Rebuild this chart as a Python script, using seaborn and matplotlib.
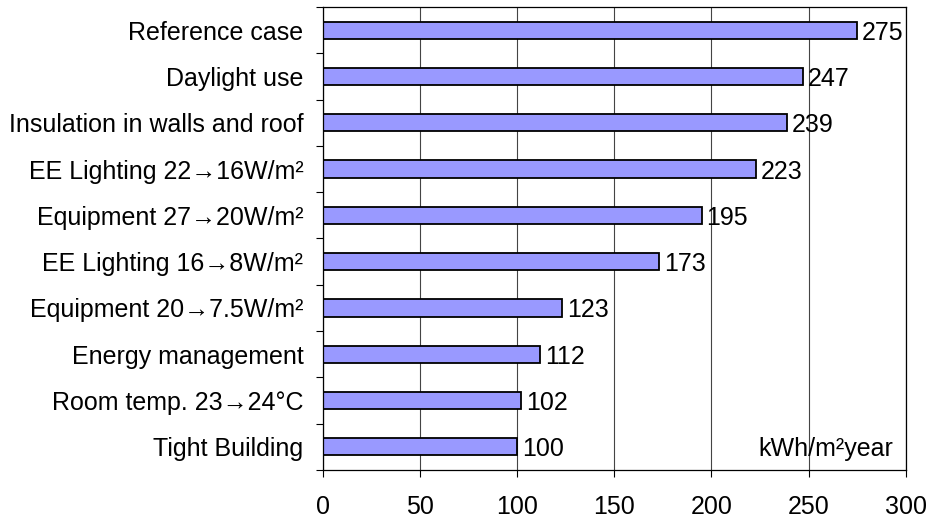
import matplotlib
matplotlib.use("Agg")
import matplotlib.pyplot as plt
from matplotlib.ticker import FixedLocator
import seaborn as sns
import pandas as pd
import numpy as np

categories = [
    "Reference case",
    "Daylight use",
    "Insulation in walls and roof",
    "EE Lighting 22\u219216W/m\u00b2",
    "Equipment 27\u219220W/m\u00b2",
    "EE Lighting 16\u21928W/m\u00b2",
    "Equipment 20\u21927.5W/m\u00b2",
    "Energy management",
    "Room temp. 23\u219224\u00b0C",
    "Tight Building",
]
values = [275, 247, 239, 223, 195, 173, 123, 112, 102, 100]
x_ticks = [0, 50, 100, 150, 200, 250, 300]
unit_label = "kWh/m\u00b2year"

FS = 18

sns.set_theme(style="white")
plt.rcParams["font.family"] = ["Liberation Sans", "DejaVu Sans"]
plt.rcParams["font.size"] = FS

df = pd.DataFrame({"measure": categories, "energy": values})

fig, ax = plt.subplots(figsize=(9.3, 5.2), dpi=100)
fig.subplots_adjust(left=0.347, right=0.974, top=0.9865, bottom=0.0962)

sns.barplot(data=df, x="energy", y="measure", orient="h", color="#9999FF",
            saturation=1, edgecolor="black", linewidth=1.3, width=0.37, ax=ax)

ax.set_xlim(0, 300)
ax.set_ylim(len(categories) - 0.5, -0.5)
ax.set_xticks(x_ticks)
ax.set_xticklabels([str(t) for t in x_ticks], fontsize=FS)
ax.set_xlabel("")
ax.set_ylabel("")
ax.tick_params(axis="y", which="major", length=0, pad=14, labelsize=FS, labelcolor="black")
ax.yaxis.set_minor_locator(FixedLocator(np.arange(-0.5, len(categories), 1.0)))
ax.tick_params(axis="y", which="minor", length=5, width=0.8, color="black", direction="out", left=True)
ax.tick_params(axis="x", which="major", length=5, width=0.8, color="black", direction="out",
               bottom=True, pad=13, labelcolor="black")

ax.grid(axis="x", color="#444444", linewidth=0.8)
ax.set_axisbelow(True)
for s in ax.spines.values():
    s.set_visible(True)
    s.set_color("black")
    s.set_linewidth(0.9)

for i, v in enumerate(values):
    ax.text(v + 2.5, i, str(v), va="center_baseline", ha="left", fontsize=FS, color="black")

ax.text(293.3, len(categories) - 1, unit_label, va="center_baseline", ha="right",
        fontsize=FS, color="black")

fig.savefig("out.png", dpi=100)
